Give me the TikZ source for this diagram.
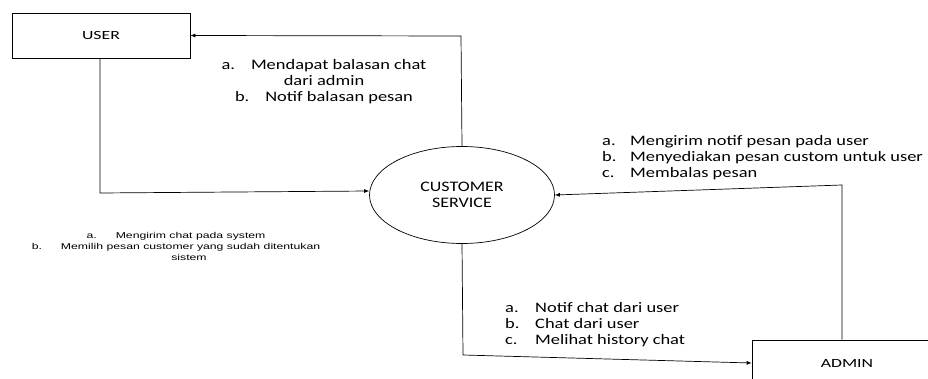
\documentclass[tikz,border=0pt]{standalone}
\usepackage{fontspec}
\setmainfont{Carlito}
\newfontfamily\lblfont[FakeStretch=1.27]{Carlito}
\newfontfamily\procfont[FakeStretch=1.24]{Carlito}
\newfontfamily\boxfont[FakeStretch=1.42]{Carlito}
\newfontfamily\arialf[FakeStretch=1.44]{Liberation Sans}
\usetikzlibrary{arrows.meta,shapes.geometric}
\tikzset{
  box/.style={draw,line width=0.7pt,minimum width=178pt,minimum height=45pt,inner sep=0pt,font=\boxfont\fontsize{12.5}{15}\selectfont},
  proc/.style={draw,line width=0.7pt,ellipse,minimum width=185pt,minimum height=97pt,inner sep=0pt,align=center,font=\procfont\fontsize{14.5}{16}\selectfont},
  flow/.style={line width=0.7pt,-{Latex[length=5pt,width=4pt]}},
  lbl/.style={inner sep=0pt,font=\lblfont\fontsize{14.5}{16}\selectfont},
  small/.style={inner sep=0pt,align=center,font=\arialf\fontsize{8.5}{11}\selectfont}
}
\begin{document}
\begin{tikzpicture}[x=1pt,y=-1pt]
\useasboundingbox (0,0) rectangle (928,379);
\clip (0,0) rectangle (928,379);
\node[box] (user) at (101,35.5) {USER};
\node[proc] (cs) at (462,195) {CUSTOMER\\SERVICE};
\node[box,minimum width=190pt,minimum height=46pt] (admin) at (847,363) {ADMIN};
\coordinate (c1) at (100,193);
\coordinate (c2) at (461,36);
\coordinate (c3) at (842,185);
\coordinate (c4) at (463,355);
\draw[flow] (user.south -| c1) -- (c1) -- (cs.west |- 0,191);
\draw[flow] (cs.north) -- (c2) -- (user.east);
\draw[flow] (admin.north -| c3) -- (c3) -- (cs.east);
\draw[flow] (cs.south) -- (c4) -- (admin.west);
\node[lbl,align=center] (t1) at (324,82) {a.\hspace{16pt}Mendapat balasan chat\\dari admin\\b.\hspace{16pt}Notif balasan pesan};
\node[lbl,anchor=west] (t2) at (602,158) {\begin{tabular}{@{}p{28pt}@{}l@{}}a. & Mengirim notif pesan pada user\\ b. & Menyediakan pesan custom untuk user\\ c. & Membalas pesan\end{tabular}};
\node[lbl,anchor=west] (t3) at (505,325) {\begin{tabular}{@{}p{30pt}@{}l@{}}a. & Notif chat dari user\\ b. & Chat dari user\\ c. & Melihat history chat\end{tabular}};
\node[small] (t4) at (176,246) {a.\hspace{19pt}Mengirim chat pada system\\b.\hspace{19pt}Memilih pesan customer yang sudah ditentukan\\\hspace{26pt}sistem};
\end{tikzpicture}
\end{document}
